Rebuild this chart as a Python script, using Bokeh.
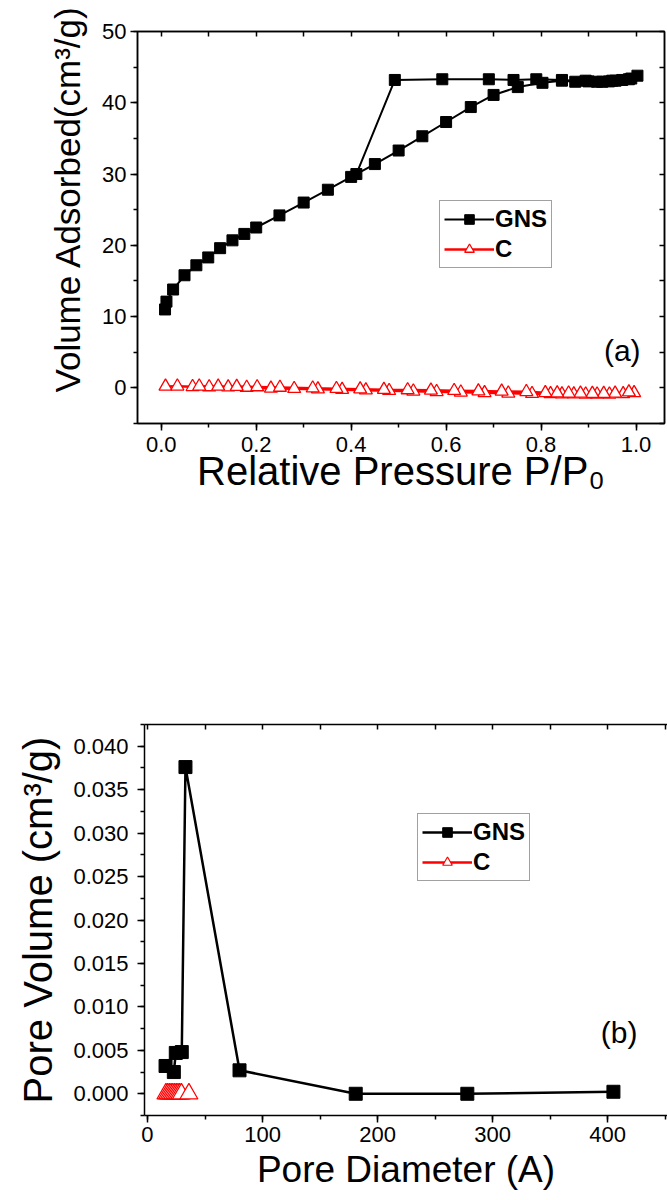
from bokeh.plotting import figure
from bokeh.models import (Range1d, SingleIntervalTicker, FixedTicker, LinearAxis,
                          NumeralTickFormatter, Label, Legend, LegendItem, Title)
from bokeh.embed import file_html
from bokeh.resources import INLINE

FONT = "Liberation Sans"

# ---------------- (a) N2 isotherm ----------------
gns_p = [0.008, 0.011, 0.025, 0.049, 0.074, 0.099, 0.124, 0.150, 0.175, 0.200, 0.249, 0.300,
         0.351, 0.400, 0.450, 0.500, 0.550, 0.600, 0.652, 0.700, 0.751, 0.803, 0.844, 0.872,
         0.894, 0.918, 0.929, 0.943, 0.957, 0.971, 0.985, 1.003,
         0.990, 0.950, 0.900, 0.844, 0.790, 0.742, 0.690, 0.592, 0.492, 0.411]
gns_v = [11.0, 12.1, 13.8, 15.8, 17.2, 18.3, 19.6, 20.7, 21.6, 22.5, 24.2, 26.0,
         27.8, 29.6, 31.4, 33.3, 35.3, 37.3, 39.4, 41.1, 42.2, 42.8, 43.1, 42.95,
         43.1, 42.95, 42.95, 43.0, 43.1, 43.2, 43.3, 43.8,
         43.4, 43.1, 43.0, 43.2, 43.3, 43.2, 43.3, 43.3, 43.2, 30.0]

c_p = [0.009, 0.034, 0.066, 0.101, 0.141, 0.180, 0.231, 0.280, 0.330, 0.381, 0.431, 0.480,
       0.531, 0.580, 0.631, 0.681, 0.731, 0.781, 0.820, 0.844, 0.869, 0.894, 0.918, 0.944,
       0.973, 0.996,
       0.985, 0.956, 0.932, 0.908, 0.883, 0.858, 0.834, 0.809, 0.769, 0.717, 0.668, 0.617,
       0.568, 0.519, 0.469, 0.419, 0.369, 0.319, 0.250, 0.202, 0.159, 0.120, 0.080]
c_v = [0.20, 0.22, 0.15, 0.12, 0.10, 0.05, -0.08, -0.12, -0.18, -0.25, -0.32, -0.40,
       -0.48, -0.55, -0.62, -0.70, -0.76, -0.82, -0.85, -0.87, -0.88, -0.90, -0.90, -0.90,
       -0.85, -0.70,
       -0.60, -0.78, -0.80, -0.80, -0.78, -0.76, -0.74, -0.70, -0.55, -0.50, -0.45, -0.40,
       -0.35, -0.30, -0.25, -0.18, -0.12, -0.05, 0.05, 0.12, 0.18, 0.20, 0.22]

# ---------------- (b) pore size distribution ----------------
pd_gns_d = [15.7, 22.9, 24.6, 29.8, 33.0, 80.0, 181.0, 278.0, 405.0]
pd_gns_v = [0.0032, 0.0025, 0.0047, 0.0048, 0.0376, 0.0027, 0.0000, 0.0000, 0.00023]

pd_c_d = [16.0, 17.5, 19.0, 20.5, 22.0, 23.5, 25.0, 26.5, 28.0, 29.5, 36.0]
pd_c_v = [0.0, 0.0, 0.0, 0.0, 0.0, 0.0, 0.0, 0.0, 0.0, 0.0, 0.0]

series_names = ["GNS", "C"]
label_a = "(a)"
label_b = "(b)"

# frame (mirror) tick positions, drawn without labels
a_top_ticks = [0.0, 0.1, 0.2, 0.3, 0.4, 0.5, 0.6, 0.7, 0.8, 0.9, 1.0]
a_right_ticks = [-5, 0, 5, 10, 15, 20, 25, 30, 35, 40, 45, 50]
b_top_ticks = [0, 50, 100, 150, 200, 250, 300, 350, 400, 450]


def style_axis(ax, label_size="37px"):
    ax.axis_line_width = 1.5
    ax.axis_line_color = "black"
    ax.major_tick_line_width = 1.5
    ax.minor_tick_line_width = 1.5
    ax.major_tick_line_color = "black"
    ax.minor_tick_line_color = "black"
    ax.major_tick_out = 7
    ax.major_tick_in = 0
    ax.minor_tick_out = 4
    ax.minor_tick_in = 0
    ax.major_label_text_font = FONT
    ax.major_label_text_font_size = "22px"
    ax.major_label_text_color = "black"
    ax.axis_label_text_font = FONT
    ax.axis_label_text_font_style = "normal"
    ax.axis_label_text_font_size = label_size
    ax.axis_label_text_color = "black"


def frame_axis(ticks):
    ax = LinearAxis(ticker=FixedTicker(ticks=[], minor_ticks=ticks))
    ax.major_label_standoff = 0
    ax.axis_line_width = 1.5
    ax.major_tick_out = 0
    ax.major_tick_in = 0
    ax.minor_tick_out = 0
    ax.minor_tick_in = 5
    ax.minor_tick_line_width = 1.5
    return ax


def make_legend(p, items, loc):
    leg = Legend(items=items, location=loc)
    leg.label_text_font = FONT
    leg.label_text_font_style = "bold"
    leg.label_text_font_size = "24px"
    leg.label_text_color = "black"
    leg.glyph_width = 50
    leg.glyph_height = 24
    leg.label_height = 24
    leg.label_standoff = 1
    leg.spacing = 2
    leg.padding = 4
    leg.margin = 0
    leg.border_line_color = "#444444"
    leg.border_line_width = 1.2
    leg.background_fill_color = "white"
    leg.background_fill_alpha = 1.0
    p.add_layout(leg)


# ======== figure (a) ========
p1 = figure(frame_width=527, frame_height=392,
            x_range=Range1d(-0.05, 1.06), y_range=Range1d(-5, 50),
            output_backend="svg", toolbar_location=None,
            min_border_left=137, min_border_right=3,
            min_border_top=31, min_border_bottom=185)
p1.grid.visible = False
p1.outline_line_color = "black"
p1.outline_line_width = 1.5
p1.background_fill_color = "white"
p1.border_fill_color = "white"

p1.xaxis.ticker = SingleIntervalTicker(interval=0.2, num_minor_ticks=2)
p1.yaxis.ticker = SingleIntervalTicker(interval=10, num_minor_ticks=2)
p1.xaxis.formatter = NumeralTickFormatter(format="0.0")
p1.yaxis.formatter = NumeralTickFormatter(format="0")
style_axis(p1.xaxis[0], "40px")
style_axis(p1.yaxis[0])
p1.xaxis.axis_label = "Relative Pressure P/P\u2080"
p1.xaxis.axis_label_standoff = -6
p1.xaxis.major_label_standoff = 6
p1.yaxis.major_label_standoff = 4

p1.add_layout(frame_axis(a_top_ticks), "above")
p1.add_layout(frame_axis(a_right_ticks), "right")

ytitle = Title(text="Volume Adsorbed(cm\u00b3/g)", align="left", offset=31,
               vertical_align="bottom", standoff=26,
               text_font=FONT, text_font_size="35px", text_font_style="normal",
               text_color="black")
p1.add_layout(ytitle, "left")

rc_l = p1.line(c_p, c_v, line_color="red", line_width=2.5)
rc_s = p1.scatter(c_p, c_v, marker="triangle", size=13, fill_color="white",
                  line_color="red", line_width=1.3)
rg_l = p1.line(gns_p, gns_v, line_color="black", line_width=2)
rg_s = p1.scatter(gns_p, gns_v, marker="square", size=11, fill_color="black",
                  line_color="black")

make_legend(p1, [LegendItem(label=series_names[0], renderers=[rg_l, rg_s]),
                 LegendItem(label=series_names[1], renderers=[rc_l, rc_s])], (302, 155))

p1.add_layout(Label(x=0.971, y=5.3, text=label_a, text_font=FONT, text_font_size="30px",
                    text_align="center", text_baseline="middle", text_color="black"))

# ======== figure (b) ========
p2 = figure(frame_width=523, frame_height=391,
            x_range=Range1d(-2.6, 452), y_range=Range1d(-0.0025, 0.0425),
            output_backend="svg", toolbar_location=None,
            min_border_left=144, min_border_right=0,
            min_border_top=116, min_border_bottom=85)
p2.grid.visible = False
p2.outline_line_color = None
p2.background_fill_color = "white"
p2.border_fill_color = "white"

p2.xaxis.ticker = SingleIntervalTicker(interval=100, num_minor_ticks=2)
p2.yaxis.ticker = SingleIntervalTicker(interval=0.005, num_minor_ticks=2)
p2.xaxis.formatter = NumeralTickFormatter(format="0")
p2.yaxis.formatter = NumeralTickFormatter(format="0.000")
style_axis(p2.xaxis[0])
style_axis(p2.yaxis[0], "40px")
p2.xaxis.axis_label = "Pore Diameter (A)"
p2.yaxis.axis_label = "Pore Volume (cm\u00b3/g)"
p2.xaxis.major_label_standoff = 4
p2.xaxis.axis_label_standoff = 4
p2.yaxis.major_label_standoff = 9
p2.yaxis.axis_label_standoff = 10

p2.add_layout(frame_axis(b_top_ticks), "above")

rc2_l = p2.line(pd_c_d, pd_c_v, line_color="red", line_width=2.5)
rc2_s = p2.scatter(pd_c_d, pd_c_v, marker="triangle", size=18, fill_color="white",
                   line_color="red", line_width=1.2)
rg2_l = p2.line(pd_gns_d, pd_gns_v, line_color="black", line_width=2.5)
rg2_s = p2.scatter(pd_gns_d, pd_gns_v, marker="square", size=13, fill_color="black",
                   line_color="black")

make_legend(p2, [LegendItem(label=series_names[0], renderers=[rg2_l, rg2_s]),
                 LegendItem(label=series_names[1], renderers=[rc2_l, rc2_s])], (273, 234))

p2.add_layout(Label(x=410, y=0.0071, text=label_b, text_font=FONT, text_font_size="30px",
                    text_align="center", text_baseline="middle", text_color="black"))

open("out.html", "w").write(file_html([p1, p2], INLINE))
